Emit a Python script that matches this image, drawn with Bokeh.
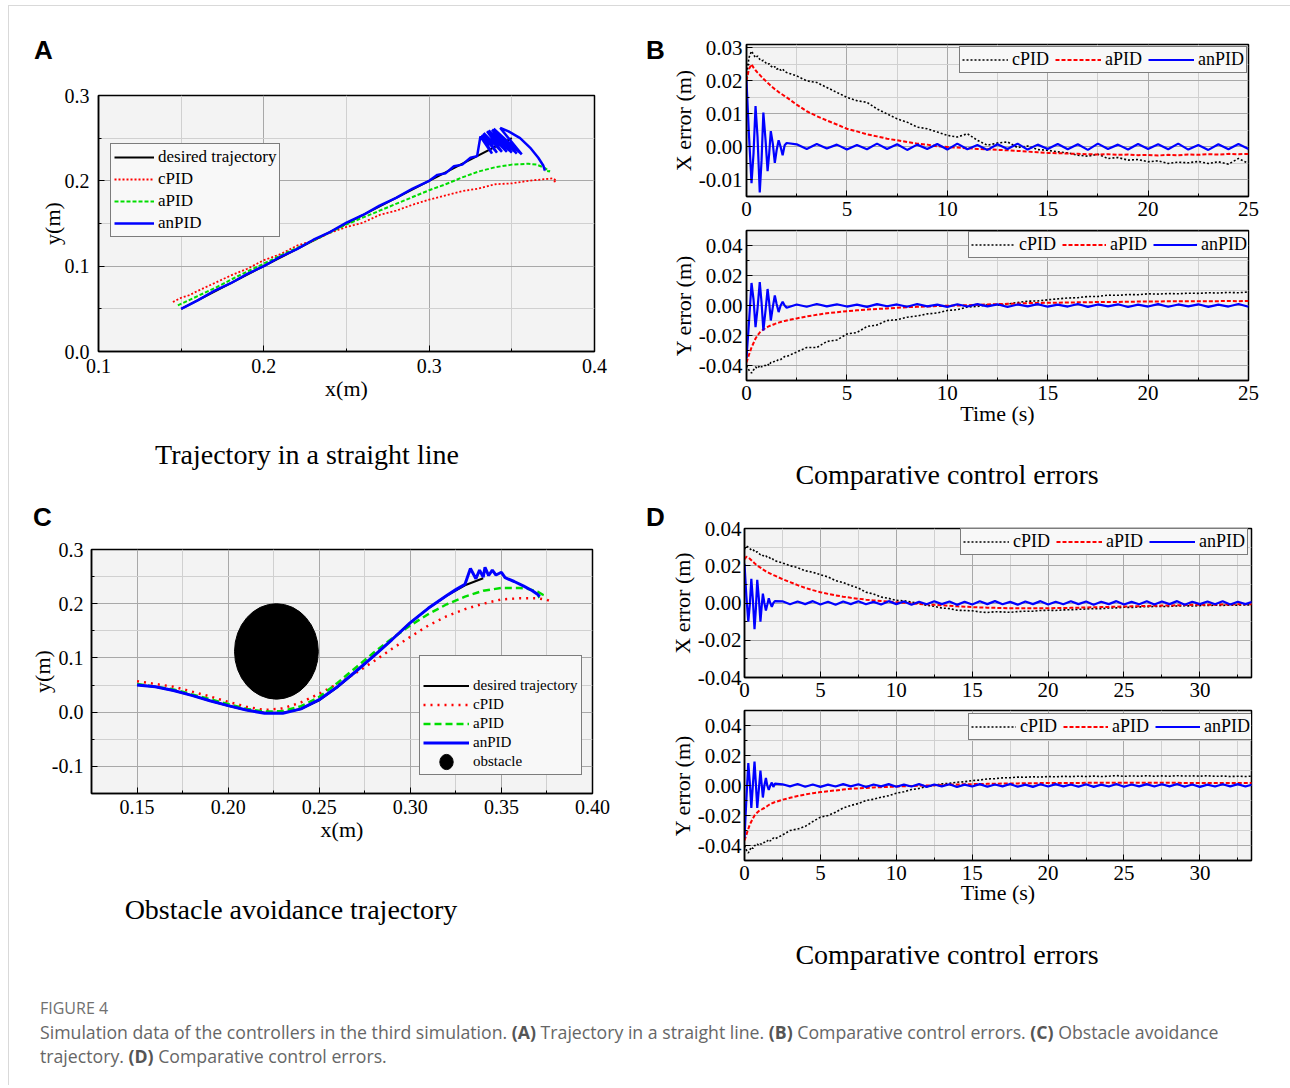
from bokeh.plotting import figure
from bokeh.layouts import column, row, Spacer
from bokeh.models import (FixedTicker, NumeralTickFormatter, Legend, LegendItem, Div, Range1d)
from bokeh.embed import file_html
from bokeh.resources import INLINE

SERIF = "Liberation Serif"
SANS = "Liberation Sans"

# ---------------- Panel A : straight line trajectory ----------------
desA_x = [0.15, 0.35]
desA_y = [0.05, 0.25]
cA_x = [0.145, 0.150, 0.155, 0.160, 0.170, 0.180, 0.190, 0.200, 0.210, 0.220, 0.230, 0.240,
        0.250, 0.260, 0.270, 0.280, 0.290, 0.300, 0.310, 0.320, 0.330, 0.340, 0.350, 0.360,
        0.365, 0.370, 0.375, 0.377, 0.375]
cA_y = [0.058, 0.063, 0.066, 0.071, 0.080, 0.089, 0.097, 0.107, 0.114, 0.124, 0.130, 0.139,
        0.146, 0.151, 0.160, 0.165, 0.172, 0.178, 0.183, 0.188, 0.191, 0.196, 0.197, 0.200,
        0.201, 0.202, 0.203, 0.200, 0.199]
aA_x = [0.148, 0.160, 0.170, 0.185, 0.200, 0.215, 0.230, 0.250, 0.270, 0.290, 0.300, 0.310,
        0.320, 0.330, 0.340, 0.350, 0.360, 0.365, 0.370, 0.373, 0.370]
aA_y = [0.054, 0.065, 0.074, 0.089, 0.103, 0.117, 0.130, 0.149, 0.165, 0.181, 0.189, 0.196,
        0.204, 0.211, 0.216, 0.219, 0.220, 0.219, 0.215, 0.211, 0.212]
nA_x = [0.150, 0.160, 0.170, 0.180, 0.190, 0.200, 0.210, 0.220, 0.230, 0.240, 0.250, 0.260,
        0.270, 0.280, 0.290, 0.300, 0.305, 0.310, 0.315, 0.320, 0.325, 0.329,
        0.331, 0.338, 0.332, 0.341, 0.333, 0.344, 0.335, 0.347, 0.336, 0.350, 0.338, 0.353,
        0.339, 0.356, 0.343, 0.348, 0.355, 0.361, 0.366, 0.369, 0.370]
nA_y = [0.050, 0.060, 0.071, 0.080, 0.091, 0.100, 0.111, 0.120, 0.131, 0.140, 0.151, 0.160,
        0.171, 0.180, 0.191, 0.200, 0.207, 0.209, 0.217, 0.219, 0.227, 0.229,
        0.252, 0.232, 0.254, 0.233, 0.256, 0.234, 0.258, 0.234, 0.259, 0.233, 0.260, 0.232,
        0.261, 0.231, 0.262, 0.258, 0.250, 0.239, 0.227, 0.218, 0.212]

# ---------------- Panel C : obstacle avoidance ----------------
desC_x = [0.15, 0.16, 0.17, 0.18, 0.19, 0.20, 0.21, 0.22, 0.23, 0.24, 0.25, 0.26, 0.27,
          0.28, 0.29, 0.30, 0.31, 0.32, 0.33, 0.34]
desC_y = [0.050, 0.047, 0.040, 0.031, 0.021, 0.012, 0.004, -0.001, -0.001, 0.006, 0.022,
          0.046, 0.074, 0.104, 0.134, 0.165, 0.192, 0.215, 0.234, 0.247]
cC_x = [0.15, 0.17, 0.19, 0.20, 0.21, 0.22, 0.23, 0.24, 0.25, 0.26, 0.27, 0.28, 0.29, 0.30,
        0.31, 0.32, 0.33, 0.34, 0.35, 0.36, 0.37, 0.375, 0.378]
cC_y = [0.057, 0.047, 0.029, 0.019, 0.010, 0.004, 0.007, 0.018, 0.034, 0.052, 0.072, 0.094,
        0.117, 0.139, 0.160, 0.177, 0.190, 0.200, 0.208, 0.210, 0.210, 0.207, 0.203]
aC_x = [0.15, 0.17, 0.19, 0.21, 0.22, 0.23, 0.24, 0.25, 0.26, 0.27, 0.28, 0.29, 0.30, 0.31,
        0.32, 0.33, 0.34, 0.35, 0.36, 0.365, 0.37, 0.373, 0.370]
aC_y = [0.052, 0.042, 0.024, 0.006, 0.001, 0.002, 0.011, 0.028, 0.054, 0.082, 0.110, 0.136,
        0.160, 0.181, 0.199, 0.213, 0.224, 0.229, 0.229, 0.227, 0.222, 0.216, 0.212]
nC_x = [0.15, 0.16, 0.17, 0.18, 0.19, 0.20, 0.21, 0.22, 0.23, 0.24, 0.25, 0.26, 0.27, 0.28,
        0.29, 0.30, 0.31, 0.32, 0.325, 0.330, 0.333, 0.336, 0.338, 0.340, 0.341, 0.343,
        0.345, 0.347, 0.350, 0.352, 0.357, 0.362, 0.367, 0.370, 0.371]
nC_y = [0.050, 0.047, 0.040, 0.031, 0.021, 0.012, 0.004, -0.002, -0.002, 0.006, 0.023,
        0.047, 0.075, 0.104, 0.134, 0.165, 0.192, 0.215, 0.226, 0.236, 0.265, 0.246, 0.262,
        0.249, 0.267, 0.252, 0.262, 0.253, 0.258, 0.248, 0.241, 0.233, 0.224, 0.217, 0.213]
obstacle_x = [0.2265]
obstacle_y = [0.112]
obstacle_w = [0.046]
obstacle_h = [0.176]

# ---------------- Panels B and D : time series ----------------
t_fine = [0.0, 0.12, 0.25, 0.35, 0.45, 0.55, 0.66, 0.75, 0.84, 0.95, 1.05, 1.13, 1.21,
          1.31, 1.41, 1.5, 1.6, 1.7, 1.8, 1.9, 2.0]
t_coarse_B = [2.5, 3.0, 3.5, 4.0, 4.5, 5.0, 5.5, 6.0, 6.5, 7.0,
              7.5, 8.0, 8.5, 9.0, 9.5, 10.0, 10.5, 11.0, 11.5, 12.0,
              12.5, 13.0, 13.5, 14.0, 14.5, 15.0, 15.5, 16.0, 16.5, 17.0,
              17.5, 18.0, 18.5, 19.0, 19.5, 20.0, 20.5, 21.0, 21.5, 22.0,
              22.5, 23.0, 23.5, 24.0, 24.5, 25.0]
t_coarse_D = t_coarse_B + [25.5, 26.0, 26.5, 27.0,
                           27.5, 28.0, 28.5, 29.0, 29.5, 30.0, 30.5, 31.0, 31.5, 32.0,
                           32.5, 33.0, 33.5]

# B : X error
bx_c = [0.021, 0.027, 0.029, 0.028, 0.027, 0.0275, 0.0265, 0.026, 0.0262, 0.0255, 0.025,
        0.0252, 0.0245, 0.024, 0.0243, 0.0235, 0.0238, 0.0232, 0.0236, 0.0228, 0.0225,
        0.0215, 0.0200, 0.0195, 0.0180, 0.0165, 0.0150, 0.0140, 0.0135, 0.0115, 0.0100,
        0.0085, 0.0075, 0.0060, 0.0055, 0.0045, 0.0035, 0.0030, 0.0040, 0.0020, 0.0005,
        0.0012, 0.0015, -0.0002, 0.0003, -0.0008, -0.0010, -0.0015, -0.0018, -0.0025, -0.0028,
        -0.0022, -0.0035, -0.0032, -0.0040, -0.0038, -0.0045, -0.0042, -0.0050, -0.0046, -0.0048,
        -0.0044, -0.0050, -0.0045, -0.0052, -0.0035, -0.0050]
bx_a = [0.020, 0.0235, 0.025, 0.024, 0.0232, 0.0225, 0.0218, 0.0212, 0.0206, 0.0200, 0.0194,
        0.0190, 0.0185, 0.0180, 0.0175, 0.0171, 0.0166, 0.0162, 0.0158, 0.0154, 0.0150,
        0.0128, 0.0108, 0.0093, 0.0080, 0.0068, 0.0055, 0.0047, 0.0038, 0.0032, 0.0025,
        0.0020, 0.0015, 0.0010, 0.0007, 0.0002, 0.0000, -0.0002, -0.0004, -0.0006, -0.0007,
        -0.0009, -0.0010, -0.0012, -0.0014, -0.0016, -0.0018, -0.0019, -0.0020, -0.0021, -0.0022,
        -0.0023, -0.0022, -0.0024, -0.0023, -0.0025, -0.0024, -0.0026, -0.0024, -0.0025, -0.0023,
        -0.0024, -0.0022, -0.0023, -0.0021, -0.0022, -0.0021]
bx_n = [0.020, 0.004, -0.011, -0.002, 0.0124, 0.003, -0.0138, -0.004, 0.0104, 0.002, -0.0073,
        -0.002, 0.0048, 0.001, -0.0048, -0.001, 0.002, 0.0, -0.0025, 0.0005, 0.0012,
        0.0008, -0.0006, 0.0009, -0.0005, 0.0007, -0.0008, 0.0006, -0.0007, 0.0010, -0.0006,
        0.0008, -0.0009, 0.0007, -0.0006, 0.0009, -0.0008, 0.0010, -0.0007, 0.0006, -0.0009,
        0.0008, -0.0006, 0.0010, -0.0008, 0.0007, -0.0006, 0.0009, -0.0007, 0.0008, -0.0009,
        0.0010, -0.0006, 0.0007, -0.0008, 0.0009, -0.0006, 0.0008, -0.0007, 0.0010, -0.0008,
        0.0006, -0.0009, 0.0008, -0.0007, 0.0009, -0.0006]
# B : Y error
by_c = [-0.040, -0.043, -0.045, -0.043, -0.041, -0.042, -0.040, -0.041, -0.040, -0.040, -0.039,
        -0.040, -0.038, -0.038, -0.037, -0.037, -0.036, -0.036, -0.035, -0.034, -0.034,
        -0.031, -0.028, -0.028, -0.024, -0.023, -0.019, -0.018, -0.014, -0.013, -0.010,
        -0.0095, -0.0078, -0.0070, -0.0056, -0.0050, -0.0033, -0.0028, -0.0010, -0.0006, 0.0004,
        0.0002, 0.0010, 0.0020, 0.0029, 0.0030, 0.0038, 0.0044, 0.0050, 0.0052, 0.0060,
        0.0060, 0.0069, 0.0068, 0.0073, 0.0072, 0.0078, 0.0076, 0.0080, 0.0078, 0.0082,
        0.0081, 0.0085, 0.0083, 0.0087, 0.0085, 0.0090]
by_a = [-0.038, -0.033, -0.028, -0.025, -0.022, -0.020, -0.018, -0.017, -0.016, -0.015, -0.0143,
        -0.0138, -0.0133, -0.0128, -0.0123, -0.0118, -0.0114, -0.0110, -0.0106, -0.0103, -0.0100,
        -0.0086, -0.0073, -0.0062, -0.0051, -0.0045, -0.0038, -0.0032, -0.0027, -0.0023, -0.0020,
        -0.0015, -0.0011, -0.0009, -0.0007, -0.0004, -0.0002, 0.0000, 0.0002, 0.0005, 0.0007,
        0.0009, 0.0011, 0.0013, 0.0016, 0.0017, 0.0018, 0.0019, 0.0020, 0.0021, 0.0022,
        0.0023, 0.0024, 0.0024, 0.0025, 0.0026, 0.0027, 0.0027, 0.0028, 0.0028, 0.0028,
        0.0029, 0.0029, 0.0029, 0.0030, 0.0029, 0.0030]
by_n = [-0.035, -0.012, 0.015, 0.004, -0.0144, -0.002, 0.0156, 0.002, -0.0167, -0.003, 0.011,
        0.002, -0.010, -0.001, 0.0067, 0.001, -0.0044, 0.000, 0.0025, 0.000, -0.0015,
        0.0007, -0.0008, 0.0010, -0.0006, 0.0008, -0.0007, 0.0006, -0.0009, 0.0009, -0.0005,
        0.0007, -0.0008, 0.0010, -0.0006, 0.0006, -0.0009, 0.0008, -0.0007, 0.0009, -0.0006,
        0.0008, -0.0010, 0.0007, -0.0006, 0.0009, -0.0008, 0.0006, -0.0007, 0.0010, -0.0009,
        0.0007, -0.0006, 0.0008, -0.0010, 0.0006, -0.0007, 0.0009, -0.0008, 0.0007, -0.0006,
        0.0008, -0.0009, 0.0006, -0.0007, 0.0010, -0.0008]
# D : X error
dx_c = [0.0289, 0.0306, 0.030, 0.0292, 0.0285, 0.0288, 0.0278, 0.0272, 0.0275, 0.0265, 0.0260,
        0.0262, 0.0255, 0.0250, 0.0253, 0.0245, 0.0247, 0.0240, 0.0242, 0.0233, 0.0227,
        0.0215, 0.0200, 0.0190, 0.0173, 0.0165, 0.0152, 0.0140, 0.0120, 0.0110, 0.0094,
        0.0080, 0.0058, 0.0048, 0.0032, 0.0025, 0.0014, 0.0012, 0.0005, -0.0002, -0.0012,
        -0.0018, -0.0027, -0.0030, -0.0039, -0.0040, -0.0042, -0.0048, -0.0051, -0.0047, -0.0048,
        -0.0050, -0.0046, -0.0044, -0.0044, -0.0040, -0.0039, -0.0040, -0.0037, -0.0036, -0.0034,
        -0.0032, -0.0030, -0.0031, -0.0027, -0.0026, -0.0023, -0.0024, -0.0021, -0.0020, -0.0019,
        -0.0019, -0.0018, -0.0016, -0.0015, -0.0016, -0.0014, -0.0013, -0.0012, -0.0013, -0.0011,
        -0.0012, -0.0010, -0.0011]
dx_a = [0.0235, 0.0248, 0.0245, 0.0238, 0.0230, 0.0222, 0.0214, 0.0207, 0.0200, 0.0195, 0.0190,
        0.0185, 0.0180, 0.0175, 0.0170, 0.0166, 0.0162, 0.0158, 0.0154, 0.0150, 0.0147,
        0.0128, 0.0112, 0.0096, 0.0081, 0.0069, 0.0058, 0.0049, 0.0041, 0.0034, 0.0028,
        0.0023, 0.0018, 0.0014, 0.0011, 0.0007, 0.0004, 0.0001, -0.0002, -0.0005, -0.0007,
        -0.0010, -0.0012, -0.0015, -0.0018, -0.0020, -0.0022, -0.0024, -0.0025, -0.0026, -0.0027,
        -0.0028, -0.0028, -0.0028, -0.0028, -0.0028, -0.0028, -0.0027, -0.0027, -0.0026, -0.0025,
        -0.0024, -0.0023, -0.0022, -0.0021, -0.0020, -0.0019, -0.0018, -0.0017, -0.0016, -0.0015,
        -0.0014, -0.0013, -0.0012, -0.0011, -0.0010, -0.0010, -0.0009, -0.0009, -0.0008, -0.0008,
        -0.0007, -0.0007, -0.0007]
dx_n = [0.021, 0.004, -0.010, -0.001, 0.013, 0.002, -0.014, -0.003, 0.0125, 0.002, -0.010,
        -0.002, 0.005, 0.000, -0.004, -0.001, 0.0025, 0.000, -0.002, 0.000, 0.001,
        0.0009, -0.0007, 0.0008, -0.0006, 0.0010, -0.0008, 0.0007, -0.0009, 0.0008, -0.0006,
        0.0009, -0.0007, 0.0006, -0.0008, 0.0010, -0.0006, 0.0008, -0.0009, 0.0007, -0.0007,
        0.0009, -0.0006, 0.0008, -0.0010, 0.0007, -0.0008, 0.0009, -0.0006, 0.0010, -0.0007,
        0.0006, -0.0009, 0.0008, -0.0006, 0.0010, -0.0008, 0.0007, -0.0007, 0.0009, -0.0006,
        0.0008, -0.0009, 0.0007, -0.0006, 0.0010, -0.0008, 0.0006, -0.0007, 0.0009, -0.0008,
        0.0008, -0.0006, 0.0010, -0.0009, 0.0007, -0.0006, 0.0008, -0.0007, 0.0009, -0.0008,
        0.0007, -0.0006, 0.0008]
# D : Y error
dy_c = [-0.040, -0.043, -0.045, -0.043, -0.041, -0.042, -0.040, -0.040, -0.039, -0.040, -0.039,
        -0.039, -0.038, -0.038, -0.037, -0.037, -0.036, -0.037, -0.036, -0.035, -0.0356,
        -0.0330, -0.0300, -0.0290, -0.0273, -0.0240, -0.0211, -0.0200, -0.0178, -0.0150, -0.0133,
        -0.0120, -0.0100, -0.0092, -0.0078, -0.0068, -0.0051, -0.0042, -0.0027, -0.0020, -0.0007,
        0.0000, 0.0011, 0.0014, 0.0022, 0.0025, 0.0033, 0.0036, 0.0044, 0.0046, 0.0051,
        0.0052, 0.0056, 0.0055, 0.0058, 0.0056, 0.0060, 0.0058, 0.0061, 0.0059, 0.0062,
        0.0060, 0.0063, 0.0060, 0.0062, 0.0066, 0.0061, 0.0064, 0.0062, 0.0065, 0.0062,
        0.0064, 0.0062, 0.0065, 0.0063, 0.0064, 0.0062, 0.0065, 0.0061, 0.0063, 0.0060,
        0.0062, 0.0060, 0.0063]
dy_a = [-0.0367, -0.033, -0.029, -0.026, -0.024, -0.022, -0.020, -0.019, -0.018, -0.017, -0.0165,
        -0.016, -0.0155, -0.015, -0.0143, -0.0137, -0.0130, -0.0124, -0.0119, -0.0115, -0.0111,
        -0.0095, -0.0082, -0.0070, -0.0060, -0.0051, -0.0044, -0.0038, -0.0033, -0.0027, -0.0022,
        -0.0019, -0.0016, -0.0013, -0.0011, -0.0009, -0.0007, -0.0005, -0.0003, -0.0002, 0.0000,
        0.0002, 0.0003, 0.0005, 0.0007, 0.0008, 0.0009, 0.0010, 0.0011, 0.0012, 0.0013,
        0.0013, 0.0014, 0.0015, 0.0015, 0.0016, 0.0016, 0.0016, 0.0017, 0.0017, 0.0017,
        0.0018, 0.0018, 0.0018, 0.0018, 0.0018, 0.0018, 0.0018, 0.0018, 0.0018, 0.0018,
        0.0018, 0.0018, 0.0018, 0.0017, 0.0017, 0.0017, 0.0017, 0.0016, 0.0016, 0.0016,
        0.0016, 0.0016, 0.0016]
dy_n = [-0.035, -0.010, 0.015, 0.002, -0.015, 0.000, 0.016, 0.001, -0.015, -0.002, 0.010,
        0.001, -0.008, 0.000, 0.005, 0.000, -0.003, 0.000, 0.002, -0.001, 0.0012,
        0.0008, -0.0006, 0.0010, -0.0008, 0.0007, -0.0009, 0.0006, -0.0007, 0.0009, -0.0006,
        0.0008, -0.0010, 0.0007, -0.0006, 0.0009, -0.0008, 0.0006, -0.0007, 0.0010, -0.0009,
        0.0007, -0.0006, 0.0008, -0.0010, 0.0006, -0.0007, 0.0009, -0.0008, 0.0007, -0.0006,
        0.0010, -0.0008, 0.0006, -0.0009, 0.0008, -0.0007, 0.0009, -0.0006, 0.0007, -0.0008,
        0.0008, -0.0009, 0.0006, -0.0007, 0.0010, -0.0008, 0.0007, -0.0006, 0.0009, -0.0007,
        0.0008, -0.0006, 0.0010, -0.0008, 0.0007, -0.0009, 0.0006, -0.0007, 0.0008, -0.0006,
        0.0009, -0.0007, 0.0008]

# ticks
ticksA_x = [0.1, 0.2, 0.3, 0.4]; minorA_x = [0.15, 0.25, 0.35]
ticksA_y = [0.0, 0.1, 0.2, 0.3]; minorA_y = [0.05, 0.15, 0.25]
ticksC_x = [0.15, 0.20, 0.25, 0.30, 0.35, 0.40]; minorC_x = [0.125, 0.175, 0.225, 0.275, 0.325, 0.375]
ticksC_y = [-0.1, 0.0, 0.1, 0.2, 0.3]; minorC_y = [-0.15, -0.05, 0.05, 0.15, 0.25]
ticksB_t = [0, 5, 10, 15, 20, 25]; minorB_t = [2.5, 7.5, 12.5, 17.5, 22.5]
ticksD_t = [0, 5, 10, 15, 20, 25, 30]; minorD_t = [2.5, 7.5, 12.5, 17.5, 22.5, 27.5, 32.5]
ticksBX = [-0.01, 0.0, 0.01, 0.02, 0.03]; minorBX = [-0.015, -0.005, 0.005, 0.015, 0.025]
ticks4 = [-0.04, -0.02, 0.0, 0.02, 0.04]; minor4 = [-0.05, -0.03, -0.01, 0.01, 0.03, 0.05]

labels_main = ["desired trajectory", "cPID", "aPID", "anPID", "obstacle"]
captions = ["Trajectory in a straight line", "Comparative control errors",
            "Obstacle avoidance trajectory", "Comparative control errors"]


def make_fig(w, h, xr, yr, bl, br, bt, bb):
    p = figure(width=w, height=h, x_range=Range1d(*xr), y_range=Range1d(*yr),
               output_backend="svg", toolbar_location=None, margin=0,
               min_border_left=bl, min_border_right=br, min_border_top=bt, min_border_bottom=bb)
    p.background_fill_color = "#f3f3f3"
    p.border_fill_color = "white"
    p.outline_line_color = "black"
    p.outline_line_width = 1.5
    return p


def style(p, xt, xm, yt, ym, xfmt, yfmt, tsize, xstand, ystand, xlab_stand, ylab_stand):
    p.xaxis.ticker = FixedTicker(ticks=xt, minor_ticks=xm)
    p.yaxis.ticker = FixedTicker(ticks=yt, minor_ticks=ym)
    p.xaxis.formatter = NumeralTickFormatter(format=xfmt)
    p.yaxis.formatter = NumeralTickFormatter(format=yfmt)
    for ax, st, ls in ((p.xaxis[0], xstand, xlab_stand), (p.yaxis[0], ystand, ylab_stand)):
        ax.axis_line_width = 1.5
        ax.axis_line_color = "black"
        ax.major_tick_in = 6
        ax.major_tick_out = 0
        ax.minor_tick_in = 3
        ax.minor_tick_out = 0
        ax.major_tick_line_color = "black"
        ax.minor_tick_line_color = "black"
        ax.major_label_text_font = SERIF
        ax.major_label_text_font_size = f"{tsize}px"
        ax.major_label_text_color = "black"
        ax.major_label_standoff = st
        ax.axis_label_text_font = SERIF
        ax.axis_label_text_font_style = "normal"
        ax.axis_label_text_font_size = "22px"
        ax.axis_label_text_color = "black"
        ax.axis_label_standoff = ls
    for g in (p.xgrid[0], p.ygrid[0]):
        g.grid_line_color = "#a8a8a8"
        g.grid_line_width = 1
        g.minor_grid_line_color = "#d0d0d0"
        g.minor_grid_line_width = 1


def legend_style(leg, size, gw, gh, pad, spacing, standoff):
    leg.label_text_font = SERIF
    leg.label_text_font_size = f"{size}px"
    leg.label_text_color = "black"
    leg.glyph_width = gw
    leg.glyph_height = gh
    leg.label_height = gh
    leg.padding = pad
    leg.spacing = spacing
    leg.margin = 0
    leg.label_standoff = standoff
    leg.border_line_color = "black"
    leg.border_line_width = 1.5
    leg.background_fill_color = "#f8f8f8"
    leg.background_fill_alpha = 1.0


def letter_div(letter, w, h, top, left):
    return Div(text=(f'<div style="font-family:\'{SANS}\',sans-serif; font-weight:bold; '
                     f'font-size:26px; line-height:26px; color:#000; padding:{top}px 0 0 {left}px;">'
                     f'{letter}</div>'), width=w, height=h, margin=0)


def caption_div(text, w, h, top, right):
    return Div(text=(f'<div style="font-family:\'{SERIF}\',serif; font-size:28px; line-height:32px; '
                     f'color:#000; text-align:center; white-space:nowrap; display:block; '
                     f'width:{w - right}px; padding-top:{top}px;">{text}</div>'),
               width=w, height=h, margin=0)


# ---------------- Figure A ----------------
pA = make_fig(632, 350, (0.1, 0.4), (0.0, 0.3), 89, 47, 25, 69)
style(pA, ticksA_x, minorA_x, ticksA_y, minorA_y, "0.0", "0.0", 20, 7, 9, 0, -3)
pA.xaxis.axis_label = "x(m)"
pA.yaxis.axis_label = "y(m)"
rA0 = pA.line(desA_x, desA_y, line_color="black", line_width=2)
rA1 = pA.line(cA_x, cA_y, line_color="red", line_width=1.8, line_dash="2 2")
rA2 = pA.line(aA_x, aA_y, line_color="#00dd00", line_width=2, line_dash="4 2")
rA3 = pA.line(nA_x, nA_y, line_color="blue", line_width=2.5)
legA = Legend(items=[LegendItem(label=labels_main[i], renderers=[r])
                     for i, r in enumerate([rA0, rA1, rA2, rA3])],
              location=(12, 114))
legend_style(legA, 17, 40, 18, 3, 2, 4)
pA.add_layout(legA)

# ---------------- Figure B ----------------
tB = t_fine + t_coarse_B
pBx = make_fig(617, 220, (0, 25), (-0.015, 0.031), 80, 35, 36, 32)
style(pBx, ticksB_t, minorB_t, ticksBX, minorBX, "0", "0.00", 21, 5, 4, 0, 0)
pBx.yaxis.axis_label = "X error (m)"
r1 = pBx.line(tB, bx_c, line_color="black", line_width=1.6, line_dash="2 2")
r2 = pBx.line(tB, bx_a, line_color="red", line_width=2, line_dash="4 2")
r3 = pBx.line(tB, bx_n, line_color="blue", line_width=2.2)
legBx = Legend(items=[LegendItem(label=labels_main[i + 1], renderers=[r])
                      for i, r in enumerate([r1, r2, r3])],
               location=(213, 123), orientation="horizontal")
legend_style(legBx, 18, 46, 19, 2, 6, 4)
pBx.add_layout(legBx)

pBy = make_fig(617, 206, (0, 25), (-0.05, 0.05), 80, 35, 2, 54)
style(pBy, ticksB_t, minorB_t, ticks4, minor4, "0", "0.00", 21, 5, 4, -2, 0)
pBy.yaxis.axis_label = "Y error (m)"
pBy.xaxis.axis_label = "Time (s)"
r1 = pBy.line(tB, by_c, line_color="black", line_width=1.6, line_dash="2 2")
r2 = pBy.line(tB, by_a, line_color="red", line_width=2, line_dash="4 2")
r3 = pBy.line(tB, by_n, line_color="blue", line_width=2.2)
legBy = Legend(items=[LegendItem(label=labels_main[i + 1], renderers=[r])
                      for i, r in enumerate([r1, r2, r3])],
               location=(222, 122), orientation="horizontal")
legend_style(legBy, 18, 44, 19, 2, 6, 4)
pBy.add_layout(legBy)

# ---------------- Figure C ----------------
pC = make_fig(632, 335, (0.125, 0.40), (-0.15, 0.30), 82, 49, 14, 77)
style(pC, ticksC_x, minorC_x, ticksC_y, minorC_y, "0.00", "0.0", 20, 6, 8, 0, -6)
pC.xaxis.axis_label = "x(m)"
pC.yaxis.axis_label = "y(m)"
rO = pC.ellipse(obstacle_x, obstacle_y, width=obstacle_w, height=obstacle_h,
                fill_color="black", line_color="black")
rC0 = pC.line(desC_x, desC_y, line_color="black", line_width=2)
rC1 = pC.line(cC_x, cC_y, line_color="red", line_width=2.5, line_dash="2 5")
rC2 = pC.line(aC_x, aC_y, line_color="#00dd00", line_width=2.5, line_dash="7 4")
rC3 = pC.line(nC_x, nC_y, line_color="blue", line_width=3)
legC = Legend(items=[LegendItem(label=labels_main[i], renderers=[r])
                     for i, r in enumerate([rC0, rC1, rC2, rC3, rO])],
              location=(328, 18))
legend_style(legC, 15, 46, 19, 3, 0, 4)
legC.title = " "
legC.title_text_font_size = "12px"
legC.title_standoff = 3
pC.add_layout(legC)

# ---------------- Figure D ----------------
tD = t_fine + t_coarse_D
pDx = make_fig(617, 217, (0, 33.4), (-0.04, 0.04), 77, 32, 38, 30)
style(pDx, ticksD_t, minorD_t, ticks4, minor4, "0", "0.00", 21, 5, 3, 0, 0)
pDx.yaxis.axis_label = "X error (m)"
r1 = pDx.line(tD, dx_c, line_color="black", line_width=1.6, line_dash="2 2")
r2 = pDx.line(tD, dx_a, line_color="red", line_width=2, line_dash="4 2")
r3 = pDx.line(tD, dx_n, line_color="blue", line_width=2.2)
legDx = Legend(items=[LegendItem(label=labels_main[i + 1], renderers=[r])
                      for i, r in enumerate([r1, r2, r3])],
               location=(216, 122), orientation="horizontal")
legend_style(legDx, 18, 46, 19, 2, 6, 4)
pDx.add_layout(legDx)

pDy = make_fig(617, 207, (0, 33.4), (-0.05, 0.05), 77, 32, 3, 54)
style(pDy, ticksD_t, minorD_t, ticks4, minor4, "0", "0.00", 21, 5, 3, -3, 0)
pDy.yaxis.axis_label = "Y error (m)"
pDy.xaxis.axis_label = "Time (s)"
r1 = pDy.line(tD, dy_c, line_color="black", line_width=1.6, line_dash="2 2")
r2 = pDy.line(tD, dy_a, line_color="red", line_width=2, line_dash="4 2")
r3 = pDy.line(tD, dy_n, line_color="blue", line_width=2.2)
legDy = Legend(items=[LegendItem(label=labels_main[i + 1], renderers=[r])
                      for i, r in enumerate([r1, r2, r3])],
               location=(224, 120), orientation="horizontal")
legend_style(legDy, 18, 45, 19, 2, 6, 4)
pDy.add_layout(legDy)

# ---------------- letters and panel captions ----------------
dA = letter_div("A", 632, 62, 29, 25)
dB = letter_div("B", 25, 482, 29, 5)
dC = letter_div("C", 632, 45, 14, 24)
dD = letter_div("D", 25, 490, 14, 5)
cA = caption_div(captions[0], 632, 70, 19, 36)
cB = caption_div(captions[1], 617, 56, 25, 55)
cC = caption_div(captions[2], 632, 110, 24, 68)
cD = caption_div(captions[3], 617, 66, 25, 55)

# ---------------- figure caption ----------------
cap_html = (
    '<div style="font-family: \'Open Sans\', sans-serif; color:#666666; font-size:17.7px; '
    'line-height:24px; padding:16px 0 0 31px; white-space:nowrap;">'
    '<div style="color:#707070; font-size:16px;">FIGURE 4</div>'
    'Simulation data of the controllers in the third simulation. <b style="color:#555">(A)</b> '
    'Trajectory in a straight line. <b style="color:#555">(B)</b> Comparative control errors. '
    '<b style="color:#555">(C)</b> Obstacle avoidance<br>trajectory. <b style="color:#555">(D)</b> '
    'Comparative control errors.</div>')
cap = Div(text=cap_html, width=1274, height=95, margin=0)

row1 = row(column(dA, pA, cA, spacing=0, margin=0), dB,
           column(pBx, pBy, cB, spacing=0, margin=0), spacing=0, margin=0)
row2 = row(column(dC, pC, cC, spacing=0, margin=0), dD,
           column(pDx, pDy, cD, spacing=0, margin=0), spacing=0, margin=0)
content = column(row1, row2, cap, spacing=0, margin=0)

vline = Div(text="", width=1, height=1080, margin=0, styles={"background-color": "#d9d9d9"})
hline = Div(text="", width=1281, height=1, margin=0, styles={"background-color": "#d9d9d9"})
root = column(Spacer(height=5, margin=0),
              row(Spacer(width=8, margin=0), vline,
                  column(hline, Spacer(height=2, margin=0), content, spacing=0, margin=0),
                  spacing=0, margin=0),
              spacing=0, margin=0)

open("out.html", "w").write(file_html(root, INLINE, "Figure 4"))
